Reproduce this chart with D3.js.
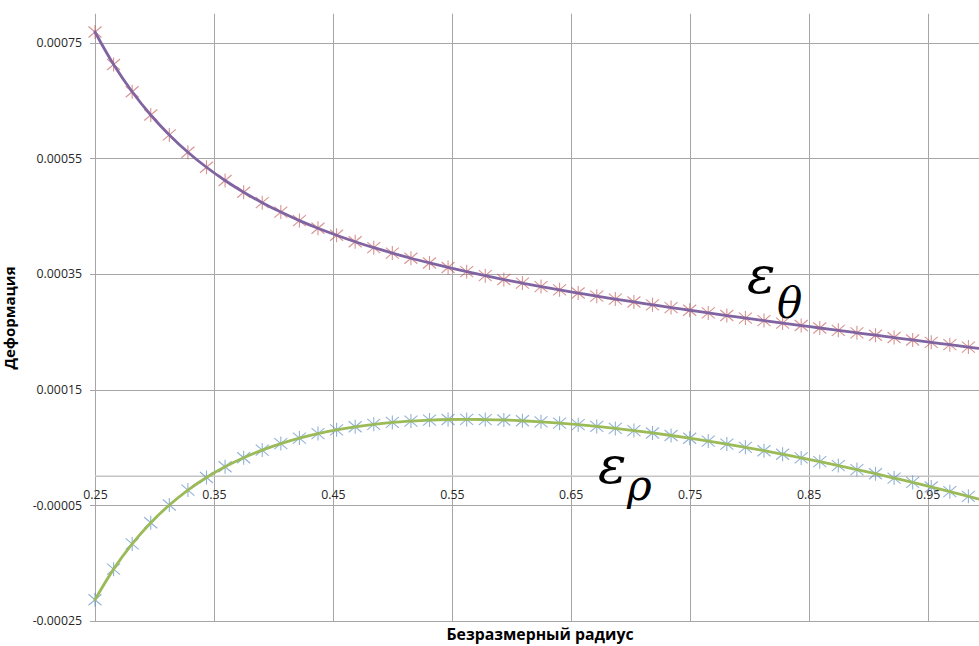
<!DOCTYPE html>
<html>
<head>
<meta charset="utf-8">
<script src="https://cdn.jsdelivr.net/npm/d3@7"></script>
<style>
  html, body { margin: 0; padding: 0; background: #fff; overflow: hidden; }
  svg { display: block; }
</style>
</head>
<body>
<svg id="chart" width="979" height="646"></svg>
<script>
// Dimensionless radius of the sample points
const radius = [
  0.25, 0.265625, 0.28125, 0.296875, 0.3125, 0.328125, 0.34375, 0.359375,
  0.375, 0.390625, 0.40625, 0.421875, 0.4375, 0.453125, 0.46875, 0.484375,
  0.5, 0.515625, 0.53125, 0.546875, 0.5625, 0.578125, 0.59375, 0.609375,
  0.625, 0.640625, 0.65625, 0.671875, 0.6875, 0.703125, 0.71875, 0.734375,
  0.75, 0.765625, 0.78125, 0.796875, 0.8125, 0.828125, 0.84375, 0.859375,
  0.875, 0.890625, 0.90625, 0.921875, 0.9375, 0.953125, 0.96875, 0.984375, 1.0
];

// Circumferential strain ε_θ
const strainTheta = [
  0.0007685, 0.0007123, 0.0006651, 0.0006249, 0.0005904, 0.0005605, 0.0005345, 0.0005116,
  0.0004913, 0.0004732, 0.0004569, 0.0004422, 0.0004290, 0.0004169, 0.0004057, 0.0003954,
  0.0003860, 0.0003771, 0.0003689, 0.0003611, 0.0003538, 0.0003469, 0.0003403, 0.0003341,
  0.0003281, 0.0003224, 0.0003169, 0.0003115, 0.0003064, 0.0003014, 0.0002965, 0.0002917,
  0.0002871, 0.0002825, 0.0002780, 0.0002736, 0.0002692, 0.0002649, 0.0002607, 0.0002564,
  0.0002523, 0.0002481, 0.0002439, 0.0002399, 0.0002357, 0.0002316, 0.0002275, 0.0002234, 0.0002193
];

// Radial strain ε_ρ
const strainRho = [
  -0.0002137, -0.0001608, -0.0001171, -0.0000805, -0.0000499, -0.0000240, -0.0000022, 0.0000163,
  0.0000319, 0.0000452, 0.0000564, 0.0000659, 0.0000737, 0.0000802, 0.0000855, 0.0000898,
  0.0000931, 0.0000954, 0.0000971, 0.0000981, 0.0000983, 0.0000980, 0.0000973, 0.0000959,
  0.0000940, 0.0000918, 0.0000891, 0.0000861, 0.0000827, 0.0000789, 0.0000748, 0.0000704,
  0.0000657, 0.0000607, 0.0000555, 0.0000499, 0.0000441, 0.0000380, 0.0000317, 0.0000252,
  0.0000184, 0.0000115, 0.0000043, -0.0000032, -0.0000108, -0.0000187, -0.0000267, -0.0000349, -0.0000433
];

const xTicks = [0.25, 0.35, 0.45, 0.55, 0.65, 0.75, 0.85, 0.95];
const xTickLabels = ["0.25", "0.35", "0.45", "0.55", "0.65", "0.75", "0.85", "0.95"];
const yTicks = [-0.00025, -0.00005, 0.00015, 0.00035, 0.00055, 0.00075];
const yTickLabels = ["-0.00025", "-0.00005", "0.00015", "0.00035", "0.00055", "0.00075"];

const W = 979, H = 646;
const svg = d3.select("#chart");

const x = d3.scaleLinear().domain([0.25, 1.0]).range([95, 987]);
const y = d3.scaleLinear().domain([-0.00025, 0.0008]).range([620.7, 13.8]);
const snap = v => Math.round(v) + 0.5;

const tickFont = "'Open Sans', 'Liberation Sans', sans-serif";

// Vertical gridlines
svg.append("g").selectAll("line").data(xTicks).join("line")
  .attr("x1", d => snap(x(d))).attr("x2", d => snap(x(d)))
  .attr("y1", y(0.0008)).attr("y2", snap(y(-0.00025)))
  .attr("stroke", "#a6a6a6").attr("stroke-width", 1);

// Horizontal gridlines (with the small ticks left of the value axis)
svg.append("g").selectAll("line").data(yTicks).join("line")
  .attr("x1", 90).attr("x2", W)
  .attr("y1", d => snap(y(d))).attr("y2", d => snap(y(d)))
  .attr("stroke", "#a6a6a6").attr("stroke-width", 1);

// Value axis labels
const yAxis = d3.axisLeft(y).tickValues(yTicks)
  .tickFormat((d, i) => yTickLabels[i]).tickSize(0).tickPadding(13);
const gy = svg.append("g").attr("transform", "translate(95,0)").call(yAxis);
gy.select(".domain").remove();
gy.selectAll("text").attr("font-family", tickFont).attr("font-size", 12.3).attr("fill", "#262626");

// Category axis at zero strain
svg.append("line")
  .attr("x1", 95).attr("x2", W)
  .attr("y1", y(0)).attr("y2", y(0))
  .attr("stroke", "#c4c4c4").attr("stroke-width", 1.6);

const xAxis = d3.axisBottom(x).tickValues(xTicks)
  .tickFormat((d, i) => xTickLabels[i]).tickSize(0).tickPadding(14);
const gx = svg.append("g").attr("transform", `translate(0,${y(0)})`).call(xAxis);
gx.select(".domain").remove();
gx.selectAll("text").attr("font-family", tickFont).attr("font-size", 12.3).attr("fill", "#262626");

// Asterisk marker: a cross with a vertical bar
const asterisk = "M-6.5,-5.5L6.5,5.5M-6.5,5.5L6.5,-5.5M0,-7L0,7";

function drawMarkers(values, colour) {
  svg.append("g").selectAll("path").data(radius).join("path")
    .attr("transform", (d, i) => `translate(${x(d)},${y(values[i])})`)
    .attr("d", asterisk)
    .attr("fill", "none")
    .attr("stroke", colour)
    .attr("stroke-opacity", 0.62)
    .attr("stroke-width", 1.1);
}
drawMarkers(strainRho, "#4F81BD");
drawMarkers(strainTheta, "#C0504D");

// Smoothed curves
function drawCurve(values, colour) {
  const line = d3.line()
    .x((d, i) => x(radius[i]))
    .y(d => y(d))
    .curve(d3.curveCatmullRom.alpha(0.5));
  svg.append("path").datum(values)
    .attr("d", line)
    .attr("fill", "none")
    .attr("stroke", colour)
    .attr("stroke-width", 2.8)
    .attr("stroke-linecap", "round");
}
drawCurve(strainRho, "#9BBB59");
drawCurve(strainTheta, "#8064A2");

// Curve annotations
const symFont = "'DejaVu Serif', serif";
function annotate(xs, ys, sub, xsub, ysub) {
  svg.append("text").attr("x", xs).attr("y", ys)
    .attr("font-family", symFont).attr("font-style", "italic")
    .attr("font-size", 53).attr("fill", "#000").text("ε");
  svg.append("text").attr("x", xsub).attr("y", ysub)
    .attr("font-family", symFont).attr("font-style", "italic")
    .attr("font-size", 42).attr("fill", "#000").text(sub);
}
annotate(747, 293, "θ", 777, 318);
annotate(598, 483, "ρ", 627, 500);

// Axis titles
svg.append("text")
  .attr("x", 540).attr("y", 640)
  .attr("text-anchor", "middle")
  .attr("font-family", tickFont).attr("font-weight", "bold")
  .attr("font-size", 15.8).attr("fill", "#000")
  .text("Безразмерный радиус");

svg.append("text")
  .attr("transform", "translate(14.5,318) rotate(-90)")
  .attr("text-anchor", "middle")
  .attr("font-family", tickFont).attr("font-weight", "bold")
  .attr("font-size", 15).attr("fill", "#000")
  .text("Деформация");
</script>
</body>
</html>
